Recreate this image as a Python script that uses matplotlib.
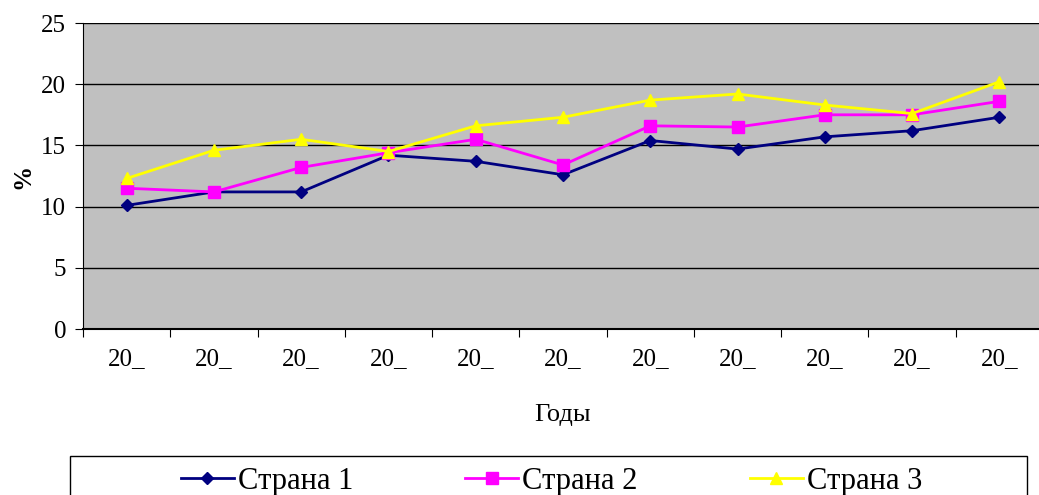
import numpy as np
import matplotlib.pyplot as plt
from matplotlib.patches import Rectangle

plt.rcParams['font.family'] = ['Liberation Serif', 'DejaVu Serif']

# данные
years = ['20_'] * 11
strana1 = [10.1, 11.2, 11.2, 14.2, 13.7, 12.6, 15.4, 14.7, 15.7, 16.2, 17.3]
strana2 = [11.5, 11.2, 13.2, 14.4, 15.5, 13.4, 16.6, 16.5, 17.5, 17.5, 18.6]
strana3 = [12.3, 14.6, 15.5, 14.5, 16.6, 17.3, 18.7, 19.2, 18.3, 17.6, 20.2]

fig = plt.figure(figsize=(10.39, 4.95), dpi=100)
ax = fig.add_axes([83 / 1039, 1 - 329 / 495, 960 / 1039, 306 / 495])
ax.set_facecolor('#C0C0C0')

x = np.arange(len(years))
ax.plot(x, strana1, color='#000080', marker='D', markersize=6, lw=2, label='Страна 1', zorder=3)
ax.plot(x, strana2, color='#FF00FF', marker='s', markersize=8, lw=2, label='Страна 2', zorder=3)
ax.plot(x, strana3, color='#FFFF00', marker='^', markersize=9, lw=2, label='Страна 3', zorder=3)

ax.set_xlim(-0.5, len(years) - 0.5)
ax.set_ylim(0, 25)
ax.set_yticks(range(0, 26, 5))
ax.yaxis.grid(True, color='black', lw=1)
ax.set_axisbelow(True)

# подписи категорий между делениями
ax.set_xticks(np.arange(len(years) + 1) - 0.5)
ax.set_xticklabels([])
ax.set_xticks(x, minor=True)
ax.set_xticklabels(years, minor=True, fontsize=18)
ax.tick_params(axis='x', which='minor', length=0, pad=14)
ax.tick_params(axis='x', which='major', direction='out', length=6, color='black')
ax.tick_params(axis='y', direction='out', length=6, labelsize=18, pad=6)

for s in ['top', 'right']:
    ax.spines[s].set_visible(False)
ax.spines['left'].set_color('black')
ax.spines['bottom'].set_color('black')
ax.spines['bottom'].set_linewidth(1.5)

ax.set_xlabel('Годы', fontsize=19, labelpad=24)
ax.set_ylabel('%', fontsize=18, fontweight='bold', labelpad=5)

# рамка легенды
fig.patches.append(Rectangle((70 / 1039, -0.05), 957 / 1039, 0.05 + 1 - 456 / 495,
                             transform=fig.transFigure, facecolor='white',
                             edgecolor='black', lw=1, zorder=0))
leg = fig.legend(loc='center', bbox_to_anchor=(551.5 / 1039, 1 - 481 / 495),
                 ncol=3, fontsize=22, frameon=False, handlelength=1.73,
                 handletextpad=0.13, columnspacing=3.67, borderpad=0)

fig.savefig('out.png', dpi=100)
